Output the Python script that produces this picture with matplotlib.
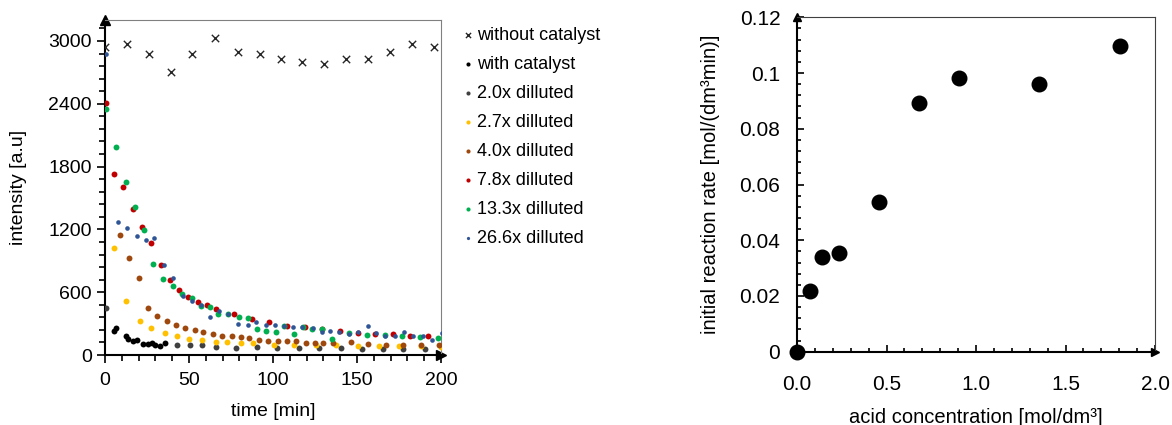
import numpy as np
import matplotlib
matplotlib.use("Agg")
from matplotlib import pyplot as plt
from matplotlib.ticker import MultipleLocator, FuncFormatter

plt.rcParams['font.family'] = ['Liberation Sans', 'DejaVu Sans']

# --- left chart: intensity vs time ---
t_without = [0, 13, 26, 39, 52, 65.5, 79, 92, 104.5, 117.5, 130.5, 143.5, 156.5, 169.5, 182.5, 196]
i_without = [2940, 2970, 2880, 2700, 2880, 3030, 2890, 2880, 2830, 2800, 2780, 2830, 2830, 2890, 2970, 2940]

t_with = [5.4, 6.5, 12.5, 13.9, 16.5, 19.2, 22.8, 25.4, 27.8, 29.8, 32.7, 35.7]
i_with = [228, 260, 180, 151, 135, 141, 103, 103, 119, 100, 84, 116]

t_20 = [0.6, 42.7, 50.6, 57.5, 65.9, 77.8, 90.3, 102.6, 115.7, 127.6, 140.5, 152.8, 165.3, 177.6, 190.5]
i_20 = [447, 100, 94, 91, 81, 69, 75, 69, 69, 69, 69, 59, 59, 59, 59]

t_27 = [5.5, 12.5, 20.8, 27.4, 35.7, 42.7, 50.2, 57.9, 65.8, 72.4, 80.8, 87.9, 100.6, 112.5,
        125.6, 137.5, 150.8, 163, 175.2, 187.9, 200]
i_27 = [1020, 520, 323, 256, 212, 180, 155, 145, 125, 122, 113, 113, 100, 100,
        91, 91, 84, 84, 84, 84, 80]

t_40 = [8.9, 14.5, 20.2, 25.4, 31.1, 36.7, 42.1, 47.6, 53.6, 58.5, 64.3, 69.4, 75.4, 80.8, 85.9,
        91.8, 97.2, 102.8, 108.5, 113.7, 119.6, 125, 130, 136, 146.2, 156.7, 167, 177.6, 188.1, 199]
i_40 = [1151, 925, 737, 447, 374, 326, 291, 260, 237, 215, 198, 186, 177, 170, 158,
        145, 138, 132, 132, 129, 119, 119, 119, 113, 124, 107, 99, 100, 97, 91]

t_78 = [0.4, 5.5, 10.9, 16.5, 22.2, 27.4, 33.1, 38.7, 44, 49.4, 55.2, 60.5, 66, 76.8, 87.3,
        97.6, 108.1, 119, 129.4, 139.9, 150.4, 160.7, 171.2, 181.5, 192.3]
i_78 = [2409, 1730, 1603, 1390, 1221, 1068, 864, 712, 623, 552, 504, 475, 441, 387, 346,
        313, 275, 272, 253, 234, 212, 202, 202, 183, 180]

t_133 = [0.4, 6.5, 12.5, 17.9, 23.4, 28.8, 34.7, 40.7, 46, 52, 57.1, 62.5, 67.5, 73.4, 79.8, 84.9,
         90.7, 95.8, 101.8, 106.5, 112.7, 117.6, 123.4, 129.4, 134.9, 145.2, 155.8, 166.7, 177,
         187.5, 198.4]
i_133 = [2351, 1985, 1651, 1412, 1196, 871, 728, 657, 584, 543, 466, 457, 393, 393, 361, 349,
         250, 234, 222, 275, 196, 266, 250, 244, 150, 212, 193, 193, 180, 174, 161]

t_266 = [0.4, 7.5, 12.9, 18.9, 24.2, 29.4, 35.1, 40.7, 46.2, 51.6, 57, 62.5, 68, 73.4, 79.4, 84.9,
         89.9, 95.6, 101, 106.7, 112, 117.5, 123.6, 129, 133.9, 139.5, 145.2, 150.4, 156.4, 161.1,
         166.7, 172.6, 178.2, 183.5, 189.1, 194.8, 200.4]
i_266 = [2877, 1269, 1215, 1139, 1103, 1120, 855, 737, 559, 514, 473, 361, 425, 393, 298, 282,
         313, 282, 285, 275, 266, 265, 256, 218, 227, 218, 202, 218, 275, 212,
         186, 180, 224, 180, 177, 148, 212]

# --- right chart: initial rate vs acid concentration ---
acid_conc = [0.0, 0.075, 0.14, 0.237, 0.457, 0.679, 0.906, 1.351, 1.804]
init_rate = [0.0, 0.0219, 0.0341, 0.0353, 0.0537, 0.0891, 0.0981, 0.0960, 0.1096]

fig = plt.figure(figsize=(11.72, 4.25), dpi=100)
ax1 = fig.add_axes([105 / 1172, 1 - 355 / 425, 336 / 1172, 335 / 425])
ax2 = fig.add_axes([797 / 1172, 1 - 351.7 / 425, 358 / 1172, 334.4 / 425])

ax1.scatter(t_without, i_without, marker="x", s=28, color="#262626", linewidths=1.0,
            label="without catalyst", zorder=3)
ax1.scatter(t_with, i_with, s=18, color="#000000", linewidths=0, label="with catalyst", zorder=3)
ax1.scatter(t_20, i_20, s=18, color="#404040", linewidths=0, label="2.0x dilluted", zorder=3)
ax1.scatter(t_27, i_27, s=18, color="#FFC000", linewidths=0, label="2.7x dilluted", zorder=3)
ax1.scatter(t_40, i_40, s=18, color="#9E480E", linewidths=0, label="4.0x dilluted", zorder=3)
ax1.scatter(t_78, i_78, s=18, color="#C00000", linewidths=0, label="7.8x dilluted", zorder=3)
ax1.scatter(t_133, i_133, s=18, color="#00B050", linewidths=0, label="13.3x dilluted", zorder=3)
ax1.scatter(t_266, i_266, s=11, color="#2F5597", linewidths=0, label="26.6x dilluted", zorder=3)

ax1.set_xlim(0, 200)
ax1.set_ylim(0, 3200)
ax1.xaxis.set_major_locator(MultipleLocator(50))
ax1.xaxis.set_minor_locator(MultipleLocator(10))
ax1.yaxis.set_major_locator(MultipleLocator(600))
ax1.yaxis.set_minor_locator(MultipleLocator(120))
ax1.tick_params(which="both", direction="out", labelsize=14, width=1.2)
ax1.tick_params(which="major", length=6)
ax1.tick_params(axis="x", which="major", pad=6)
ax1.tick_params(which="minor", length=4)
ax1.set_xlabel("time [min]", fontsize=14, labelpad=10)
ax1.set_ylabel("intensity [a.u]", fontsize=14, labelpad=15)
for s in ["top", "right"]:
    ax1.spines[s].set_color("#808080")
for s in ["left", "bottom"]:
    ax1.spines[s].set_linewidth(1.5)
ax1.plot([0], [1], marker="^", color="black", markersize=7, transform=ax1.transAxes, clip_on=False)
ax1.plot([1], [0], marker=">", color="black", markersize=7, transform=ax1.transAxes, clip_on=False)

fig.legend(*ax1.get_legend_handles_labels(), loc="upper left",
           bbox_to_anchor=(452 / 1172, 1 - 20 / 425), frameon=False, fontsize=13,
           handletextpad=0.0, handlelength=1.0, labelspacing=0.66, borderaxespad=0,
           markerscale=0.7)

ax2.scatter(acid_conc, init_rate, s=110, color="black", zorder=3, clip_on=False)
ax2.set_xlim(0, 2.0)
ax2.set_ylim(0, 0.12)
ax2.xaxis.set_major_locator(MultipleLocator(0.5))
ax2.xaxis.set_minor_locator(MultipleLocator(0.1))
ax2.yaxis.set_major_locator(MultipleLocator(0.02))
ax2.yaxis.set_minor_locator(MultipleLocator(0.004))
ax2.xaxis.set_major_formatter(FuncFormatter(lambda v, p: "%.1f" % v))
ax2.yaxis.set_major_formatter(FuncFormatter(lambda v, p: ("%.2f" % v).rstrip("0").rstrip(".") if v else "0"))
ax2.tick_params(which="both", direction="in", labelsize=15, width=1.2)
ax2.tick_params(which="major", length=5)
ax2.tick_params(axis="x", which="major", pad=17)
ax2.tick_params(axis="y", which="major", pad=12)
ax2.tick_params(which="minor", length=3)
ax2.set_xlabel("acid concentration [mol/dm³]", fontsize=14.5, labelpad=10)
ax2.set_ylabel("initial reaction rate [mol/(dm³min)]", fontsize=14.5, labelpad=14)
for s in ["top", "right"]:
    ax2.spines[s].set_color("#404040")
for s in ["left", "bottom"]:
    ax2.spines[s].set_linewidth(1.5)
ax2.plot([0], [1], marker="^", color="black", markersize=6, transform=ax2.transAxes, clip_on=False)
ax2.plot([1], [0], marker=">", color="black", markersize=6, transform=ax2.transAxes, clip_on=False)

plt.savefig("out.png", dpi=100)
